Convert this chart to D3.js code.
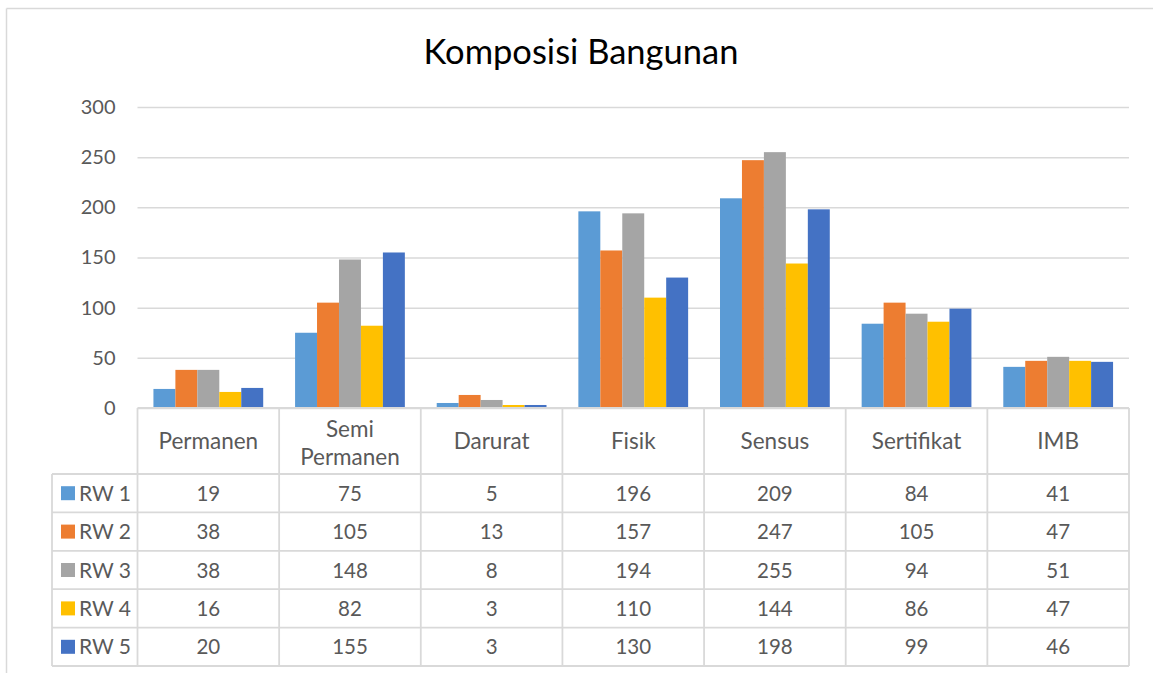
<!DOCTYPE html>
<html>
<head>
<meta charset="utf-8">
<script src="https://cdn.jsdelivr.net/npm/d3@7"></script>
<style>
  body { margin: 0; background: #fff; }
  svg { display: block; }
  text { font-family: Lato, "Open Sans", sans-serif; }
</style>
</head>
<body>
<svg id="chart" width="1153" height="673"></svg>
<script>
// data
var categories = ["Permanen", "Semi Permanen", "Darurat", "Fisik", "Sensus", "Sertifikat", "IMB"];
var series = ["RW 1", "RW 2", "RW 3", "RW 4", "RW 5"];
var rw1 = [19, 75, 5, 196, 209, 84, 41];
var rw2 = [38, 105, 13, 157, 247, 105, 47];
var rw3 = [38, 148, 8, 194, 255, 94, 51];
var rw4 = [16, 82, 3, 110, 144, 86, 47];
var rw5 = [20, 155, 3, 130, 198, 99, 46];
var yTicks = [0, 50, 100, 150, 200, 250, 300];
var colors = ["#5B9BD5", "#ED7D31", "#A5A5A5", "#FFC000", "#4472C4"];

var values = [rw1, rw2, rw3, rw4, rw5];

var svg = d3.select("#chart");
var plotL = 137.5, plotR = 1129, plotT = 107, plotB = 408;
var headerH = 66, rowH = 38.4, legendLeft = 52;
var gridColor = "#d9d9d9", textColor = "#595959";

// outer frame (only top and left edges visible in the crop)
svg.append("line").attr("x1", 6.5).attr("x2", 1153).attr("y1", 8.5).attr("y2", 8.5)
    .attr("stroke", gridColor).attr("stroke-width", 1.5);
svg.append("line").attr("x1", 6.5).attr("x2", 6.5).attr("y1", 8.5).attr("y2", 673)
    .attr("stroke", gridColor).attr("stroke-width", 1.5);

svg.append("text").attr("x", 581).attr("y", 64).attr("text-anchor", "middle")
    .attr("font-size", 34.5).attr("fill", "#000").text("Komposisi Bangunan");

var x0 = d3.scaleBand().domain(categories).range([plotL, plotR]).padding(0);
var gap = x0.bandwidth() * 0.225;
var x1 = d3.scaleBand().domain(series).range([gap / 2, x0.bandwidth() - gap / 2]).padding(0);
var y = d3.scaleLinear().domain([0, 300]).range([plotB, plotT]);

// gridlines + y axis labels
var yAxis = d3.axisLeft(y).tickValues(yTicks).tickSize(-(plotR - plotL)).tickPadding(22);
var gy = svg.append("g").attr("transform", "translate(" + plotL + ",0)").call(yAxis);
gy.select(".domain").remove();
gy.selectAll(".tick line").attr("stroke", gridColor).attr("stroke-width", 1.5);
gy.selectAll(".tick text").attr("fill", textColor).attr("font-size", 20)
    .attr("font-family", "Lato, 'Open Sans', sans-serif");

// bars
var groups = svg.append("g").selectAll("g").data(categories).enter().append("g")
    .attr("transform", function(d) { return "translate(" + x0(d) + ",0)"; });
groups.selectAll("rect")
    .data(function(d, i) { return series.map(function(s, j) { return {s: s, v: values[j][i], j: j}; }); })
    .enter().append("rect")
    .attr("x", function(d) { return x1(d.s); })
    .attr("width", x1.bandwidth())
    .attr("y", function(d) { return y(d.v); })
    .attr("height", function(d) { return y(0) - y(d.v); })
    .attr("fill", function(d) { return colors[d.j]; });

// data table
var table = svg.append("g");
var tableBottom = plotB + headerH + rowH * series.length;
function hline(xa, xb, yy) {
  table.append("line").attr("x1", xa).attr("x2", xb).attr("y1", yy).attr("y2", yy)
      .attr("stroke", gridColor).attr("stroke-width", 1.8);
}
function vline(xx, ya, yb) {
  table.append("line").attr("x1", xx).attr("x2", xx).attr("y1", ya).attr("y2", yb)
      .attr("stroke", gridColor).attr("stroke-width", 1.8);
}
hline(plotL, plotR, plotB);
series.forEach(function(s, j) { hline(legendLeft, plotR, plotB + headerH + rowH * j); });
hline(legendLeft, plotR, tableBottom);
vline(legendLeft, plotB + headerH, tableBottom);
categories.forEach(function(c) { vline(x0(c), plotB, tableBottom); });
vline(plotR, plotB, tableBottom);

// header labels
categories.forEach(function(c) {
  var cx = x0(c) + x0.bandwidth() / 2;
  var words = c.split(" ");
  var t = table.append("text").attr("text-anchor", "middle").attr("fill", textColor).attr("font-size", 22.5);
  if (words.length === 1) {
    t.attr("x", cx).attr("y", plotB + headerH / 2 + 8).text(c);
  } else {
    words.forEach(function(w, k) {
      t.append("tspan").attr("x", cx).attr("y", plotB + 29 + k * 28).text(w);
    });
  }
});

// rows
series.forEach(function(s, j) {
  var cy = plotB + headerH + rowH * j + rowH / 2;
  table.append("rect").attr("x", 61).attr("y", cy - 7).attr("width", 14).attr("height", 14)
      .attr("fill", colors[j]);
  table.append("text").attr("x", 79).attr("y", cy + 7.5).attr("fill", textColor)
      .attr("font-size", 21).text(s);
  categories.forEach(function(c, i) {
    table.append("text").attr("x", x0(c) + x0.bandwidth() / 2).attr("y", cy + 7.5)
        .attr("text-anchor", "middle").attr("fill", textColor).attr("font-size", 20.5)
        .text(values[j][i]);
  });
});
</script>
</body>
</html>
